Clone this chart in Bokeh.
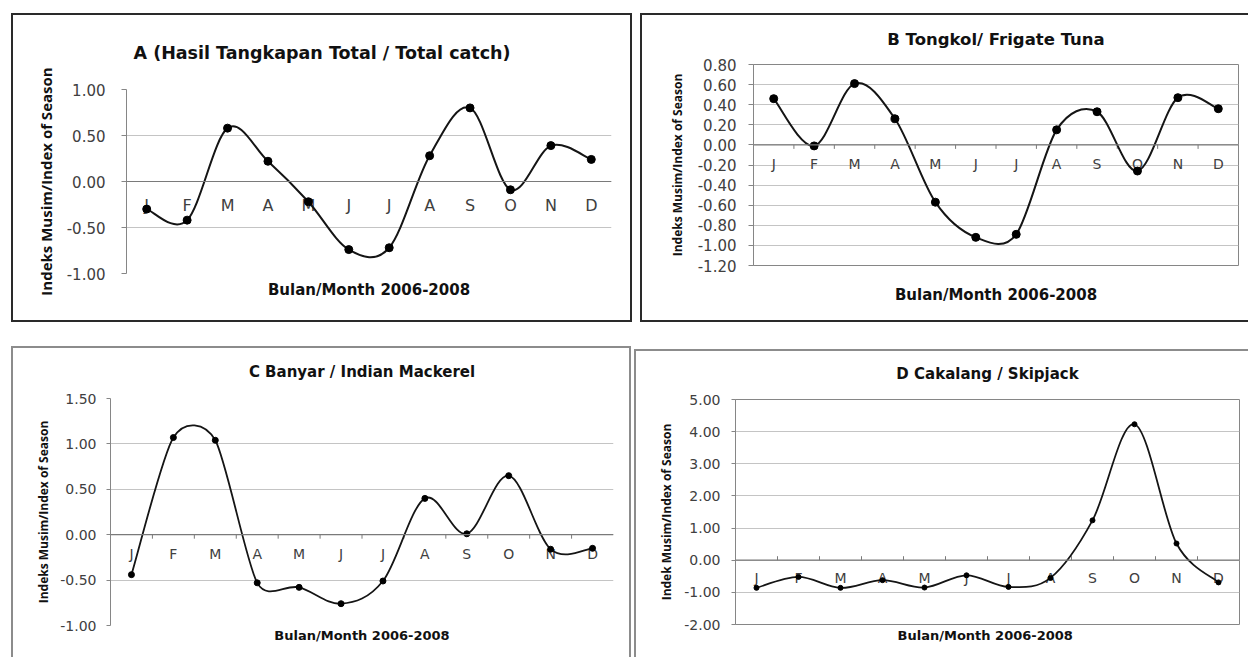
import numpy as np
from bokeh.plotting import figure
from bokeh.models import Range1d, FixedTicker, NumeralTickFormatter, Span
from bokeh.embed import file_html
from bokeh.resources import INLINE
from bokeh.core.properties import value

# ---------------- data ----------------
months = ["J", "F", "M", "A", "M", "J", "J", "A", "S", "O", "N", "D"]

total_catch = [-0.30, -0.42, 0.58, 0.22, -0.22, -0.74, -0.72, 0.28, 0.80, -0.09, 0.39, 0.24]
frigate_tuna = [0.46, -0.01, 0.61, 0.26, -0.57, -0.92, -0.89, 0.15, 0.33, -0.26, 0.47, 0.36]
indian_mackerel = [-0.44, 1.07, 1.04, -0.53, -0.58, -0.76, -0.51, 0.40, 0.01, 0.65, -0.16, -0.15]
skipjack = [-0.86, -0.52, -0.86, -0.62, -0.85, -0.47, -0.83, -0.55, 1.24, 4.23, 0.52, -0.69]

yticks_a = [-1.0, -0.5, 0.0, 0.5, 1.0]
yticks_b = [-1.2, -1.0, -0.8, -0.6, -0.4, -0.2, 0.0, 0.2, 0.4, 0.6, 0.8]
yticks_c = [-1.0, -0.5, 0.0, 0.5, 1.0, 1.5]
yticks_d = [-2.0, -1.0, 0.0, 1.0, 2.0, 3.0, 4.0, 5.0]

title_a = "A (Hasil Tangkapan Total / Total catch)"
title_b = "B Tongkol/ Frigate Tuna"
title_c = "C Banyar / Indian Mackerel"
title_d = "D Cakalang / Skipjack"
xlabel = "Bulan/Month 2006-2008"
xlabel_d = "Bulan/Month  2006-2008"
ylabel = "Indeks Musim/Index of Season"
ylabel_d = "Indek Musim/Index of Season"

FONT = "DejaVu Sans"
YFONT = "Open Sans"
TXT = "#404040"


def smooth_segments(ys, px_x, px_y):
    """Excel-like smoothed line: Bezier pieces whose tangents are limited
    (in screen space) by half of the neighbouring segment lengths."""
    n = len(ys)
    xs = np.arange(n) + 0.5
    ys = np.asarray(ys, dtype=float)
    P = np.column_stack([xs * px_x, ys * px_y])

    def dist(a, b):
        return float(np.hypot(*(P[a] - P[b])))

    tang = np.zeros_like(P)
    for i in range(n):
        i0 = max(i - 1, 0)
        i2 = min(i + 1, n - 1)
        d02 = dist(i0, i2)
        if d02 == 0:
            continue
        f = 1.0 / 6.0
        if i0 != i:
            f = min(f, 0.5 * dist(i0, i) / d02)
        if i2 != i:
            f = min(f, 0.5 * dist(i, i2) / d02)
        tang[i] = (P[i2] - P[i0]) * f
    out = {k: [] for k in ("x0", "y0", "x1", "y1", "cx0", "cy0", "cx1", "cy1")}
    for i in range(n - 1):
        c0 = (P[i] + tang[i]) / [px_x, px_y]
        c1 = (P[i + 1] - tang[i + 1]) / [px_x, px_y]
        out["x0"].append(xs[i]); out["y0"].append(ys[i])
        out["x1"].append(xs[i + 1]); out["y1"].append(ys[i + 1])
        out["cx0"].append(c0[0]); out["cy0"].append(c0[1])
        out["cx1"].append(c1[0]); out["cy1"].append(c1[1])
    return out


def make_panel(vals, yticks, cfg):
    yr = (yticks[0], yticks[-1])
    p = figure(width=cfg["w"], height=cfg["h"],
               x_range=Range1d(0, len(months)), y_range=Range1d(*yr),
               output_backend="svg", toolbar_location=None,
               min_border_left=cfg["bl"], min_border_right=cfg["br"],
               min_border_top=cfg["bt"], min_border_bottom=cfg["bb"])
    p.background_fill_color = None
    p.border_fill_color = None
    p.outline_line_color = cfg["outline"]
    p.outline_line_width = 1

    # title
    p.title.text = cfg["title"]
    p.title.text_font = FONT
    p.title.text_font_size = cfg["title_size"]
    p.title.text_font_style = "bold"
    p.title.text_color = "#111111"
    p.title.align = cfg.get("title_align", "center")
    p.title.vertical_align = "top"
    p.title.offset = cfg["title_offset"]
    p.title.standoff = cfg["title_standoff"]

    # x axis (only its title is shown)
    xa = p.xaxis[0]
    xa.ticker = FixedTicker(ticks=[])
    xa.axis_line_color = None
    xa.major_tick_out = 0
    xa.major_tick_in = 0
    xa.minor_tick_out = 0
    xa.major_label_standoff = 0
    xa.axis_label = cfg["xlabel"]
    xa.axis_label_text_font = FONT
    xa.axis_label_text_font_size = cfg["xlabel_size"]
    xa.axis_label_text_font_style = "bold"
    xa.axis_label_text_color = "#111111"
    xa.axis_label_standoff = cfg["xlabel_standoff"]

    # y axis
    ya = p.yaxis[0]
    ya.ticker = FixedTicker(ticks=yticks)
    ya.formatter = NumeralTickFormatter(format="0.00")
    ya.axis_line_color = "#868686"
    ya.major_tick_line_color = "#868686"
    ya.major_tick_out = cfg["ytick_out"]
    ya.major_tick_in = 0
    ya.minor_tick_line_color = None
    ya.major_label_standoff = cfg["ylab_standoff"]
    ya.major_label_text_font = FONT
    ya.major_label_text_font_size = cfg["ytick_size"]
    ya.major_label_text_color = TXT
    ya.axis_label = cfg["ylabel"]
    ya.axis_label_text_font = YFONT
    ya.axis_label_text_font_size = cfg["ylabel_size"]
    ya.axis_label_text_font_style = "bold"
    ya.axis_label_text_color = "#111111"
    ya.axis_label_standoff = cfg["ylabel_standoff"]

    p.xgrid.visible = False
    p.ygrid.ticker = FixedTicker(ticks=yticks)
    p.ygrid.grid_line_color = "#c4c4c4"
    p.ygrid.grid_line_width = 1

    # zero (category) axis line
    p.add_layout(Span(location=0, dimension="width", line_color="#7a7a7a", line_width=1.2))

    n = len(months)
    centers = np.arange(n) + 0.5
    frame_w = cfg["w"] - cfg["bl"] - cfg["br"]
    frame_h = cfg["h"] - cfg["bt"] - cfg["bb"]
    px_x = frame_w / n
    px_y = frame_h / (yr[1] - yr[0])
    if cfg["cat_ticks"] != 0:
        tl = 4.0 / px_y * cfg["cat_ticks"]
        b = np.arange(1, n)
        p.segment(x0=b, y0=np.zeros(len(b)), x1=b, y1=np.full(len(b), tl),
                  line_color="#7a7a7a", line_width=1)

    p.text(x=centers, y=np.zeros(n), text=months, text_align="center",
           text_baseline="middle", y_offset=cfg["month_offset"],
           text_font=value(FONT), text_font_size=cfg["month_size"], text_color=TXT)

    seg = smooth_segments(vals, px_x, px_y)
    p.bezier(x0=seg["x0"], y0=seg["y0"], x1=seg["x1"], y1=seg["y1"],
             cx0=seg["cx0"], cy0=seg["cy0"], cx1=seg["cx1"], cy1=seg["cy1"],
             line_color="#151515", line_width=cfg["lw"])
    p.scatter(x=centers, y=vals, size=cfg["ms"], fill_color="black", line_color="black")

    bw, bc = cfg["bw"], cfg["bc"]
    shadows = []
    if "l" in cfg["sides"]:
        shadows.append(f"inset {bw}px 0 0 0 {bc}")
    if "t" in cfg["sides"]:
        shadows.append(f"inset 0 {bw}px 0 0 {bc}")
    if "r" in cfg["sides"]:
        shadows.append(f"inset -{bw}px 0 0 0 {bc}")
    if "b" in cfg["sides"]:
        shadows.append(f"inset 0 -{bw}px 0 0 {bc}")
    p.styles = {"position": "absolute", "left": f"{cfg['left']}px", "top": f"{cfg['top']}px",
                "box-shadow": ", ".join(shadows)}
    return p


cfg_a = dict(left=11, top=13, w=621, h=309, bl=115, br=21, bt=76, bb=49, outline=None,
             title=title_a, title_size="17.5px", title_align="left", title_offset=7, title_standoff=50,
             xlabel=xlabel, xlabel_size="15px", xlabel_standoff=7,
             ylabel=ylabel, ylabel_size="15px", ylabel_standoff=8,
             ytick_out=5, ylab_standoff=16, ytick_size="15px",
             cat_ticks=0, month_size="16px", month_offset=24, lw=2.0, ms=8,
             bw=2, bc="#2a2a2a", sides="ltrb")
cfg_b = dict(left=640, top=13, w=608, h=309, bl=113, br=10, bt=51, bb=57, outline="#868686",
             title=title_b, title_size="16.5px", title_offset=-45, title_standoff=28,
             xlabel=xlabel, xlabel_size="15px", xlabel_standoff=20,
             ylabel=ylabel, ylabel_size="12px", ylabel_standoff=9,
             ytick_out=5, ylab_standoff=12, ytick_size="15px",
             cat_ticks=-1, month_size="14px", month_offset=19, lw=2.0, ms=8,
             bw=2, bc="#2a2a2a", sides="ltb")
cfg_c = dict(left=11, top=346, w=620, h=311, bl=99, br=18, bt=52, bb=32, outline=None,
             title=title_c, title_size="15px", title_offset=-40, title_standoff=31,
             xlabel=xlabel, xlabel_size="13px", xlabel_standoff=2,
             ylabel=ylabel, ylabel_size="12px", ylabel_standoff=5,
             ytick_out=4, ylab_standoff=10, ytick_size="14px",
             cat_ticks=-1, month_size="14px", month_offset=19, lw=1.8, ms=6,
             bw=2, bc="#8c8c8c", sides="ltr")
cfg_d = dict(left=634, top=349, w=614, h=308, bl=101, br=9, bt=50, bb=33, outline="#868686",
             title=title_d, title_size="15px", title_offset=-41, title_standoff=29,
             xlabel=xlabel_d, xlabel_size="13px", xlabel_standoff=3,
             ylabel=ylabel_d, ylabel_size="12px", ylabel_standoff=6,
             ytick_out=4, ylab_standoff=11, ytick_size="14px",
             cat_ticks=1, month_size="14px", month_offset=18, lw=1.8, ms=5,
             bw=2, bc="#8c8c8c", sides="lt")

pa = make_panel(total_catch, yticks_a, cfg_a)
pb = make_panel(frigate_tuna, yticks_b, cfg_b)
pc = make_panel(indian_mackerel, yticks_c, cfg_c)
pd_ = make_panel(skipjack, yticks_d, cfg_d)

open("out.html", "w").write(file_html([pa, pb, pc, pd_], INLINE))
